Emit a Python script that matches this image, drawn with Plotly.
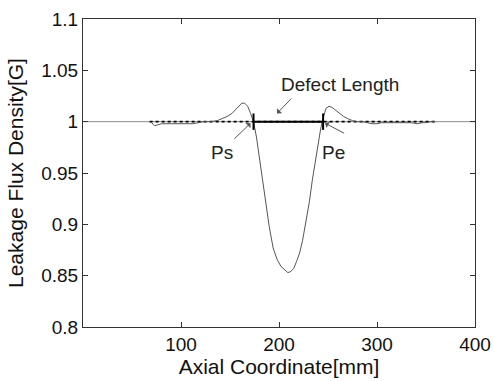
import plotly.graph_objects as go

# measured leakage flux density curve
x_meas = [68, 70, 73, 76, 80, 90, 100, 112, 118, 123, 130, 137, 142, 147, 152, 157, 162, 165, 168, 171, 174,
          177, 180, 183, 186, 190, 194, 198, 202, 206, 209, 212, 215, 218, 221, 224, 227, 231, 234, 237, 240,
          242, 244, 246, 248, 251, 254, 258, 262, 266, 270, 275, 280, 285, 290, 295, 300, 305, 310, 320, 330,
          335, 341, 346, 350, 355, 359]
y_meas = [1.000, 0.999, 0.996, 0.997, 0.998, 0.998, 0.998, 0.998, 0.999, 1.000, 1.000, 1.001, 1.003, 1.005, 1.008, 1.013, 1.018, 1.018, 1.015, 1.008, 1.000,
          0.985, 0.965, 0.943, 0.922, 0.898, 0.877, 0.866, 0.859, 0.855, 0.853, 0.854, 0.857, 0.864, 0.872, 0.884, 0.900, 0.922, 0.943, 0.962, 0.980,
          0.990, 1.000, 1.008, 1.013, 1.015, 1.014, 1.011, 1.008, 1.005, 1.003, 1.001, 1.000, 1.000, 0.999, 0.998, 0.998, 0.999, 0.999, 0.999, 0.999,
          0.999, 0.998, 0.999, 0.999, 1.000, 1.000]

# reference (baseline) levels
base_x = [0, 400]
base_y = [1.0, 1.0]
dotted_x = [68, 360]
dotted_y = [1.0, 1.0]

# defect length markers
ps_x = 174
pe_x = 245
tick_low, tick_high = 0.992, 1.008

x_ticks = [100, 200, 300, 400]
y_ticks = [0.8, 0.85, 0.9, 0.95, 1.0, 1.05, 1.1]
y_tick_text = ["0.8", "0.85", "0.9", "0.95", "1", "1.05", "1.1"]

FONT = "Liberation Sans, Arial, sans-serif"

fig = go.Figure()
fig.add_trace(go.Scatter(x=base_x, y=base_y, mode="lines",
                         line=dict(color="#8a8a8a", width=1), showlegend=False, hoverinfo="skip"))
fig.add_trace(go.Scatter(x=dotted_x, y=dotted_y, mode="lines",
                         line=dict(color="black", width=1.6, dash="dot"), showlegend=False))
fig.add_trace(go.Scatter(x=x_meas, y=y_meas, mode="lines",
                         line=dict(color="#555555", width=1), showlegend=False))
fig.add_trace(go.Scatter(x=[ps_x, pe_x], y=[1.0, 1.0], mode="lines",
                         line=dict(color="black", width=2), showlegend=False))
fig.add_trace(go.Scatter(x=[ps_x, ps_x, None, pe_x, pe_x], y=[tick_low, tick_high, None, tick_low, tick_high],
                         mode="lines", line=dict(color="black", width=2), showlegend=False))

ann_font = dict(family=FONT, size=19, color="#222")
arrow = dict(showarrow=True, arrowhead=1, arrowsize=1.2, arrowwidth=1, arrowcolor="#555",
             axref="x", ayref="y", xref="x", yref="y")
fig.add_annotation(x=198, y=1.008, ax=214, ay=1.024, text="", **arrow)
fig.add_annotation(x=262, y=1.036, text="Defect Length", showarrow=False, font=ann_font)
fig.add_annotation(x=171, y=0.9985, ax=153, ay=0.982, text="", **arrow)
fig.add_annotation(x=142, y=0.970, text="Ps", showarrow=False, font=ann_font)
fig.add_annotation(x=247, y=0.9985, ax=268, ay=0.988, text="", **arrow)
fig.add_annotation(x=256, y=0.970, text="Pe", showarrow=False, font=ann_font)

# y-axis title placed as rotated text left of tick labels
fig.add_annotation(xref="paper", yref="paper", x=0, y=0.5, xanchor="center", yanchor="middle",
                   xshift=-68, textangle=-90, showarrow=False, text="Leakage Flux Density[G]",
                   font=dict(family=FONT, size=21, color="#111"))

axis_common = dict(showline=True, linecolor="#333", linewidth=1, mirror="ticks",
                   ticks="inside", ticklen=5, tickcolor="#333", showgrid=False, zeroline=False,
                   automargin=False, tickfont=dict(family=FONT, size=19, color="#111"))
fig.update_xaxes(range=[0, 400], tickvals=x_ticks,
                 title=dict(text="Axial Coordinate[mm]", font=dict(family=FONT, size=21, color="#111"), standoff=0),
                 **axis_common)
fig.update_yaxes(range=[0.8, 1.1], tickvals=y_ticks, ticktext=y_tick_text, **axis_common)
fig.update_layout(width=494, height=381, margin=dict(l=83, r=19, t=19, b=54),
                  plot_bgcolor="white", paper_bgcolor="white")
fig.write_html("out.html")
